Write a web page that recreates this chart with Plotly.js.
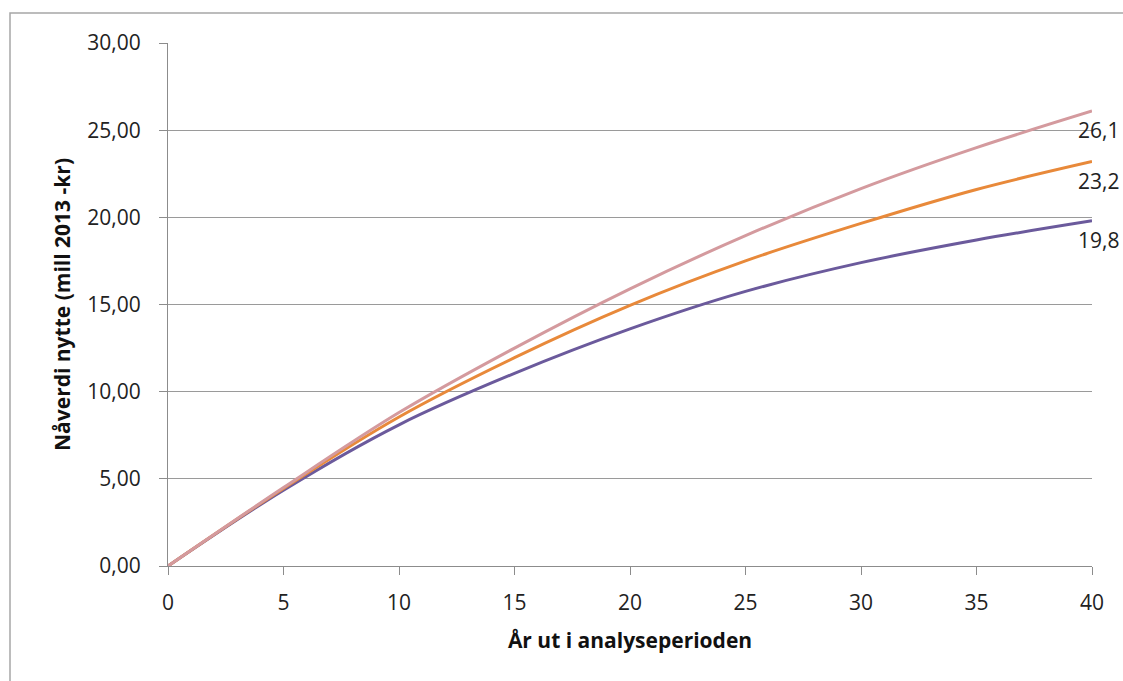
<!DOCTYPE html>
<html>
<head>
<meta charset="utf-8">
<script src="https://cdn.plot.ly/plotly-3.0.1.min.js"></script>
<style>
  html, body { margin: 0; padding: 0; background: #ffffff; }
  #chart { width: 1123px; height: 681px; }
</style>
</head>
<body>
<div id="chart"></div>
<script>
// Years in the analysis period
const years = [0, 5, 10, 15, 20, 25, 30, 35, 40];
// Present value of benefits (mill 2013-kr), three scenarios
const pinkSeries   = [0, 4.50, 8.80, 12.50, 15.90, 18.95, 21.65, 24.00, 26.10];
const orangeSeries = [0, 4.45, 8.55, 11.95, 14.95, 17.50, 19.65, 21.60, 23.20];
const purpleSeries = [0, 4.35, 8.10, 11.05, 13.60, 15.75, 17.40, 18.70, 19.80];
const yTicks = [0, 5, 10, 15, 20, 25, 30];
const xTicks = [0, 5, 10, 15, 20, 25, 30, 35, 40];
const yTitle = 'Nåverdi nytte (mill 2013 -kr)';
const xTitle = 'År ut i analyseperioden';

const series = [
  {y: purpleSeries, color: '#6b5a9c'},
  {y: orangeSeries, color: '#e8893a'},
  {y: pinkSeries,   color: '#d49a9e'}
];

const traces = series.map(s => ({
  x: years, y: s.y, type: 'scatter', mode: 'lines',
  line: {color: s.color, width: 3, shape: 'spline', smoothing: 1},
  hoverinfo: 'skip', showlegend: false
}));

const FONT = 'Open Sans, sans-serif';
const fmt1 = v => v.toFixed(1).replace('.', ',');
const annotations = series.map(s => ({
  x: years[years.length - 1], y: s.y[s.y.length - 1], xref: 'x', yref: 'y',
  text: fmt1(s.y[s.y.length - 1]), showarrow: false,
  xanchor: 'left', yanchor: 'middle', xshift: -16, yshift: -19,
  font: {family: FONT, size: 21, color: '#222222'}
}));

const L = 168, R = 1092, T = 43, B = 566, W = 1123, H = 681;
const pw = R - L, ph = B - T;

const layout = {
  width: W, height: H,
  margin: {l: L, r: W - R, t: T, b: H - B, pad: 0},
  paper_bgcolor: '#ffffff', plot_bgcolor: '#ffffff',
  separators: ',.',
  font: {family: FONT, size: 21, color: '#222222'},
  xaxis: {
    range: [0, 40], tickvals: xTicks, ticktext: xTicks.map(String),
    showgrid: false, zeroline: false,
    showline: true, linecolor: '#8c8c8c', linewidth: 1,
    ticks: 'outside', ticklen: 8, tickcolor: '#8c8c8c', tickwidth: 1,
    ticklabelstandoff: 10,
    tickfont: {family: FONT, size: 21, color: '#222222'},
    title: {text: xTitle, standoff: 18,
            font: {family: FONT, size: 21, color: '#111111', weight: 'bold'}}
  },
  yaxis: {
    range: [0, 30], tickvals: yTicks, tickformat: '.2f',
    showgrid: true, gridcolor: '#9a9a9a', gridwidth: 1,
    zeroline: false,
    showline: true, linecolor: '#8c8c8c', linewidth: 1,
    ticks: 'outside', ticklen: 8, tickcolor: '#8c8c8c', tickwidth: 1,
    ticklabelstandoff: 14,
    tickfont: {family: FONT, size: 21, color: '#222222'},
    title: {text: yTitle, standoff: 10,
            font: {family: FONT, size: 21, color: '#111111', weight: 'bold'}}
  },
  annotations: annotations,
  shapes: [{
    type: 'rect', xref: 'paper', yref: 'paper',
    x0: (10 - L) / pw, x1: (W + 10 - L) / pw,
    y0: (B - (H + 10)) / ph, y1: (B - 13) / ph,
    line: {color: '#a6a6a6', width: 1.5}, fillcolor: 'rgba(0,0,0,0)', layer: 'below'
  }]
};

Plotly.newPlot('chart', traces, layout, {staticPlot: true, displayModeBar: false});
</script>
</body>
</html>
